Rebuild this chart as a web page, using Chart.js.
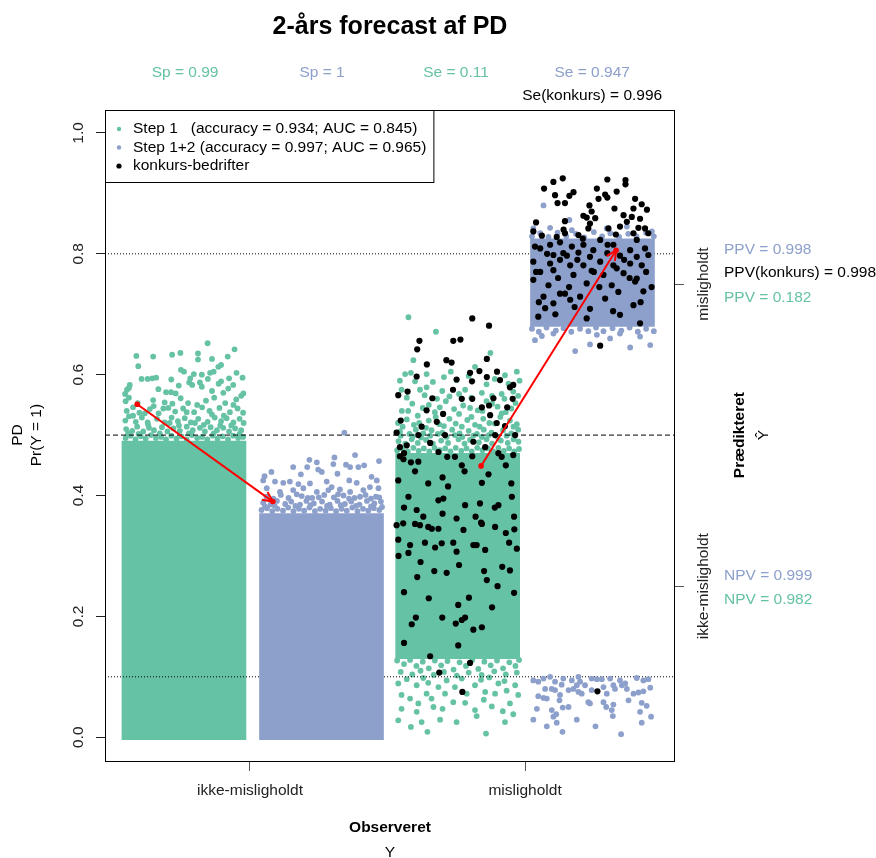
<!DOCTYPE html>
<html>
<head>
<meta charset="utf-8">
<script src="https://cdn.jsdelivr.net/npm/chart.js@4.4.0/dist/chart.umd.min.js"></script>
<style>
  html, body { margin: 0; padding: 0; background: #fff; }
  canvas { display: block; }
</style>
</head>
<body>
<canvas id="pd-chart" width="876" height="858"></canvas>
<script>
const categories = ['ikke-misligholdt', 'misligholdt'];
const yTickValues = [0, 0.2, 0.4, 0.6, 0.8, 1.0];
const xRange = [0.473, 2.545];
const yRange = [-0.041, 1.038];

const seriesLabels = [
  'Step 1   (accuracy = 0.934; AUC = 0.845)',
  'Step 1+2 (accuracy = 0.997; AUC = 0.965)',
  'konkurs-bedrifter'
];

// dense part of each cloud: x position, low and high PD
const greenCoreX = [0.76, 1.755];
const greenCoreLo = [-0.004, 0.13];
const greenCoreHi = [0.49, 0.47];
const blueCoreX = [1.26, 2.245];
const blueCoreLo = [-0.004, 0.68];
const blueCoreHi = [0.37, 0.825];

// Step 1, observed ikke-misligholdt (sparse part above the dense block)
const step1Ikke = [
  [0.548,0.495],[0.566,0.499],[0.584,0.493],[0.603,0.498],[0.621,0.494],[0.640,0.500],[0.658,0.495],[0.677,0.497],
  [0.695,0.493],[0.714,0.499],[0.733,0.494],[0.751,0.498],[0.770,0.493],[0.789,0.500],[0.808,0.495],[0.826,0.497],
  [0.845,0.493],[0.864,0.499],[0.882,0.494],[0.901,0.498],[0.920,0.493],[0.939,0.499],[0.957,0.495],[0.975,0.497],
  [0.550,0.510],[0.572,0.507],[0.590,0.514],[0.612,0.506],[0.633,0.512],[0.651,0.508],[0.680,0.513],[0.700,0.506],
  [0.722,0.511],[0.745,0.507],[0.770,0.514],[0.792,0.508],[0.818,0.512],[0.836,0.506],[0.857,0.513],[0.880,0.508],
  [0.903,0.512],[0.924,0.506],[0.946,0.511],[0.968,0.508],
  [0.557,0.503],[0.595,0.502],[0.630,0.517],[0.672,0.503],[0.708,0.520],[0.742,0.516],[0.778,0.503],[0.800,0.520],
  [0.832,0.517],[0.868,0.503],[0.892,0.516],[0.932,0.516],[0.962,0.502],
  [0.547,0.524],[0.560,0.531],[0.585,0.522],[0.607,0.529],[0.628,0.521],[0.662,0.527],[0.690,0.521],[0.715,0.529],
  [0.738,0.523],[0.763,0.528],[0.785,0.521],[0.812,0.527],[0.846,0.522],[0.872,0.529],[0.895,0.523],[0.915,0.528],
  [0.940,0.521],[0.962,0.527],[0.977,0.520],
  [0.575,0.532],[0.618,0.536],[0.650,0.548],[0.685,0.544],[0.718,0.552],[0.770,0.538],[0.808,0.550],[0.862,0.534],
  [0.905,0.532],[0.940,0.550],[0.968,0.565],
  [0.552,0.540],[0.575,0.546],[0.598,0.537],[0.636,0.543],[0.668,0.536],[0.703,0.545],[0.728,0.539],[0.757,0.544],
  [0.797,0.538],[0.826,0.546],[0.853,0.540],[0.889,0.545],[0.927,0.538],[0.955,0.544],[0.975,0.537],
  [0.548,0.556],[0.560,0.562],[0.592,0.553],[0.648,0.558],[0.690,0.554],[0.748,0.561],[0.775,0.553],[0.840,0.557],
  [0.870,0.562],[0.910,0.553],[0.950,0.559],[0.546,0.568],[0.553,0.575],[0.560,0.578],
  [0.846,0.652],[0.944,0.642],[0.587,0.631],[0.648,0.630],[0.717,0.633],[0.747,0.636],[0.811,0.635],[0.811,0.625],
  [0.862,0.626],[0.919,0.630],[0.594,0.614],[0.895,0.616],[0.885,0.613],[0.749,0.608],[0.760,0.605],[0.796,0.601],
  [0.825,0.600],[0.855,0.603],[0.868,0.605],[0.951,0.603],[0.606,0.593],[0.628,0.593],[0.645,0.594],[0.659,0.595],
  [0.714,0.592],[0.783,0.594],[0.779,0.587],[0.818,0.587],[0.847,0.593],[0.895,0.589],[0.886,0.585],[0.924,0.594],
  [0.973,0.595],[0.563,0.583],[0.667,0.576],[0.741,0.582],[0.790,0.583],[0.695,0.571],[0.713,0.571],[0.730,0.569],
  [0.825,0.580],[0.862,0.573],[0.903,0.570],[0.921,0.577],[0.939,0.583],[0.976,0.569]
];

// Step 1+2, observed ikke-misligholdt
const step12Ikke = [
  [1.042,0.376],[1.062,0.379],[1.081,0.374],[1.100,0.378],[1.120,0.375],[1.139,0.380],[1.158,0.374],[1.178,0.378],
  [1.197,0.375],[1.216,0.380],[1.236,0.374],[1.255,0.378],[1.275,0.375],[1.294,0.379],[1.313,0.374],[1.333,0.378],
  [1.352,0.375],[1.372,0.380],[1.391,0.374],[1.411,0.378],[1.430,0.375],[1.450,0.379],[1.470,0.376],[1.480,0.381],
  [1.055,0.382],[1.090,0.383],[1.165,0.383],[1.220,0.384],[1.280,0.383],[1.330,0.384],[1.385,0.383],[1.440,0.382],
  [1.048,0.388],[1.075,0.385],[1.098,0.391],[1.128,0.386],[1.150,0.390],[1.182,0.385],[1.205,0.391],[1.232,0.387],
  [1.262,0.390],[1.290,0.385],[1.318,0.391],[1.345,0.386],[1.368,0.390],[1.398,0.385],[1.425,0.391],[1.452,0.387],
  [1.476,0.390],
  [1.470,0.397],[1.440,0.395],[1.400,0.398],[1.360,0.395],[1.320,0.402],[1.250,0.397],[1.210,0.396],[1.170,0.402],
  [1.085,0.395],
  [1.060,0.398],[1.112,0.401],[1.140,0.396],[1.188,0.399],[1.226,0.396],[1.270,0.401],[1.305,0.397],[1.340,0.400],
  [1.380,0.396],[1.420,0.401],[1.458,0.398],
  [1.343,0.504],[1.382,0.467],[1.307,0.463],[1.216,0.459],[1.243,0.455],[1.469,0.457],[1.157,0.447],[1.303,0.452],
  [1.349,0.451],[1.364,0.447],[1.394,0.447],[1.415,0.450],[1.208,0.447],[1.248,0.443],[1.261,0.439],[1.078,0.439],
  [1.185,0.435],[1.318,0.436],[1.053,0.432],[1.361,0.425],[1.388,0.421],[1.442,0.431],[1.461,0.425],[1.121,0.421],
  [1.145,0.423],[1.176,0.419],[1.218,0.420],[1.279,0.423],[1.297,0.414],[1.327,0.410],[1.048,0.425],[1.091,0.423],
  [1.061,0.412],[1.109,0.406],[1.157,0.409],[1.194,0.412],[1.243,0.406],[1.285,0.409],[1.364,0.406],[1.412,0.409],
  [1.436,0.414],[1.467,0.412]
];

// Step 1, observed misligholdt
const step1Mis = [
  [1.576,0.695],[1.676,0.671],[1.874,0.636],[1.594,0.624],[1.818,0.613],[1.730,0.605],[1.564,0.601],[1.585,0.603],
  [1.642,0.601],[1.970,0.605],[1.927,0.599],[1.751,0.591],[1.600,0.589],[1.551,0.575],[1.618,0.575],[1.642,0.579],
  [1.699,0.573],[1.782,0.575],[1.843,0.570],[1.915,0.568],[1.957,0.572],
  [1.545,0.590],[1.665,0.588],[1.705,0.596],[1.795,0.598],[1.860,0.584],[1.890,0.593],[1.940,0.585],[1.980,0.590],
  [1.570,0.562],[1.635,0.566],[1.680,0.560],[1.725,0.564],[1.760,0.568],[1.805,0.562],[1.880,0.565],[1.925,0.560],
  [1.975,0.565],
  [1.535,0.475],[1.555,0.478],[1.574,0.473],[1.594,0.479],[1.613,0.474],[1.632,0.478],[1.652,0.473],[1.671,0.479],
  [1.690,0.475],[1.710,0.478],[1.729,0.473],[1.748,0.479],[1.768,0.474],[1.787,0.478],[1.806,0.473],[1.826,0.479],
  [1.845,0.475],[1.865,0.478],[1.884,0.473],[1.903,0.479],[1.923,0.474],[1.942,0.478],[1.961,0.473],[1.978,0.477],
  [1.540,0.490],[1.565,0.486],[1.588,0.493],[1.610,0.487],[1.640,0.492],[1.665,0.486],[1.695,0.491],[1.720,0.487],
  [1.758,0.493],[1.780,0.486],[1.800,0.492],[1.832,0.488],[1.860,0.493],[1.880,0.486],[1.912,0.491],[1.937,0.487],
  [1.958,0.493],[1.976,0.489],
  [1.548,0.499],[1.592,0.498],[1.622,0.496],[1.655,0.499],[1.683,0.502],[1.715,0.497],[1.745,0.500],[1.772,0.497],
  [1.812,0.499],[1.843,0.497],[1.868,0.500],[1.900,0.497],[1.933,0.499],[1.962,0.498],
  [1.545,0.506],[1.580,0.502],[1.603,0.509],[1.630,0.503],[1.660,0.508],[1.700,0.504],[1.735,0.509],[1.762,0.503],
  [1.795,0.507],[1.825,0.502],[1.850,0.509],[1.878,0.504],[1.920,0.508],[1.950,0.503],[1.975,0.509],
  [1.555,0.514],[1.615,0.520],[1.640,0.512],[1.675,0.530],[1.705,0.515],[1.770,0.514],[1.805,0.530],[1.835,0.514],
  [1.870,0.520],[1.910,0.530],[1.958,0.514],
  [1.538,0.520],[1.570,0.526],[1.596,0.517],[1.650,0.524],[1.688,0.518],[1.725,0.527],[1.748,0.519],[1.790,0.525],
  [1.818,0.517],[1.848,0.527],[1.890,0.519],[1.945,0.524],[1.970,0.518],
  [1.575,0.540],[1.610,0.532],[1.650,0.550],[1.690,0.546],[1.760,0.535],[1.800,0.545],[1.845,0.540],[1.880,0.552],
  [1.915,0.536],[1.950,0.544],
  [1.552,0.540],[1.590,0.552],[1.628,0.545],[1.672,0.538],[1.712,0.556],[1.742,0.543],[1.775,0.549],[1.828,0.541],
  [1.860,0.556],[1.900,0.547],[1.930,0.538],[1.965,0.553],
  [1.535,0.127],[1.560,0.121],[1.582,0.128],[1.605,0.118],[1.628,0.125],[1.650,0.114],[1.672,0.127],[1.695,0.119],
  [1.718,0.126],[1.740,0.112],[1.762,0.124],[1.785,0.118],[1.808,0.128],[1.830,0.113],[1.852,0.125],[1.875,0.119],
  [1.898,0.127],[1.920,0.114],[1.943,0.124],[1.965,0.118],[1.978,0.128],
  [1.548,0.108],[1.590,0.104],[1.620,0.110],[1.668,0.103],[1.705,0.108],[1.752,0.102],[1.795,0.107],[1.842,0.103],
  [1.888,0.109],[1.930,0.104],[1.970,0.107],
  [1.570,0.096],[1.630,0.098],[1.715,0.094],[1.770,0.097],[1.840,0.095],[1.870,0.099],[1.925,0.093],
  [1.539,0.089],[1.606,0.086],[1.648,0.090],[1.903,0.089],[1.685,0.083],[1.745,0.083],[1.818,0.086],[1.964,0.086],
  [1.551,0.070],[1.582,0.064],[1.612,0.056],[1.642,0.072],[1.709,0.072],[1.739,0.058],[1.788,0.072],[1.855,0.075],
  [1.891,0.072],[1.933,0.077],[1.660,0.064],[1.850,0.062],[1.975,0.070],
  [1.551,0.047],[1.606,0.042],[1.667,0.050],[1.782,0.057],[1.818,0.045],[1.879,0.051],[1.919,0.043],[1.945,0.056],
  [1.700,0.047],[1.539,0.028],[1.585,0.017],[1.645,0.009],[1.858,0.006],[1.691,0.029],[1.624,0.025],[1.751,0.025],
  [1.824,0.035],[1.927,0.025],[1.957,0.038]
];

// Step 1+2, observed misligholdt
const step12Mis = [
  [2.025,0.676],[2.050,0.671],[2.078,0.678],[2.112,0.673],[2.140,0.677],[2.168,0.671],[2.200,0.676],[2.230,0.672],
  [2.258,0.678],[2.285,0.672],[2.318,0.677],[2.350,0.673],[2.380,0.678],[2.410,0.671],[2.440,0.676],[2.468,0.672],
  [2.036,0.657],[2.061,0.664],[2.182,0.639],[2.236,0.650],[2.309,0.660],[2.382,0.645],[2.455,0.649],[2.103,0.668],
  [2.261,0.666],[2.345,0.668],[2.418,0.663],
  [2.025,0.829],[2.055,0.834],[2.085,0.828],[2.118,0.835],[2.150,0.829],[2.185,0.833],[2.215,0.827],[2.250,0.836],
  [2.280,0.829],[2.310,0.834],[2.342,0.828],[2.375,0.833],[2.405,0.829],[2.440,0.835],[2.468,0.829],
  [2.067,0.880],[2.161,0.856],[2.030,0.842],[2.091,0.843],[2.170,0.839],[2.297,0.842],[2.370,0.845],[2.461,0.837],
  [2.030,0.094],[2.048,0.092],[2.067,0.097],[2.091,0.100],[2.109,0.092],[2.139,0.097],[2.170,0.094],[2.194,0.100],
  [2.200,0.092],[2.242,0.097],[2.261,0.096],[2.279,0.096],[2.309,0.097],[2.345,0.094],[2.364,0.089],[2.406,0.098],
  [2.430,0.094],[2.448,0.096],[2.073,0.080],[2.097,0.080],[2.109,0.078],[2.133,0.087],[2.158,0.078],[2.176,0.080],
  [2.194,0.075],[2.206,0.072],[2.188,0.086],[2.218,0.086],[2.242,0.078],[2.285,0.083],[2.297,0.072],[2.321,0.086],
  [2.327,0.080],[2.352,0.086],[2.370,0.080],[2.394,0.072],[2.412,0.074],[2.430,0.076],[2.455,0.082],[2.048,0.068],
  [2.067,0.065],[2.079,0.064],[2.127,0.070],[2.125,0.061],[2.230,0.058],[2.236,0.056],[2.285,0.058],[2.295,0.050],
  [2.321,0.054],[2.376,0.061],[2.424,0.057],[2.442,0.052],[2.043,0.047],[2.097,0.045],[2.137,0.049],[2.158,0.050],
  [2.103,0.034],[2.113,0.038],[2.315,0.045],[2.319,0.035],[2.418,0.042],[2.458,0.034],[2.030,0.029],[2.115,0.024],
  [2.188,0.029],[2.424,0.024],[2.079,0.018],[2.136,0.009],[2.256,0.018],[2.349,0.005]
];

// konkurs-bedrifter, Step 1
const konkursStep1 = [
  [1.808,0.693],[1.869,0.681],[1.616,0.656],[1.608,0.642],[1.739,0.656],[1.765,0.658],[1.861,0.626],[1.714,0.624],
  [1.733,0.620],[1.643,0.617],[1.606,0.597],[1.751,0.592],[1.800,0.603],[1.834,0.606],[1.898,0.605],[1.861,0.596],
  [1.909,0.591],[1.807,0.589],[1.957,0.583],[1.945,0.579],[1.738,0.575],[1.539,0.566],[1.573,0.572],[1.663,0.561],
  [1.770,0.560],[1.808,0.560],[1.885,0.561],[1.955,0.560],[1.843,0.546],[1.869,0.549],[1.935,0.546],[1.642,0.541],
  [1.702,0.535],[1.873,0.533],[1.548,0.524],[1.679,0.522],[1.897,0.520],[1.624,0.514],[1.927,0.515],[1.533,0.504],
  [1.612,0.500],[1.709,0.500],[1.891,0.500],[1.964,0.500],[1.570,0.483],[1.655,0.487],[1.812,0.489],[1.855,0.480],
  [1.545,0.465],[1.558,0.460],[1.685,0.472],[1.717,0.464],[1.745,0.464],[1.808,0.465],[1.903,0.470],[1.915,0.464],
  [1.957,0.467],[1.612,0.456],[1.770,0.450],[1.867,0.435],[1.539,0.425],[1.648,0.420],[1.843,0.421],[1.576,0.398],
  [1.606,0.376],[1.685,0.392],[1.703,0.395],[1.782,0.384],[1.836,0.387],[1.903,0.384],[1.952,0.398],[1.751,0.362],
  [1.843,0.353],[1.648,0.348],[1.557,0.354],
  [1.545,0.480],[1.560,0.470],[1.585,0.455],[1.600,0.440],[1.700,0.430],[1.720,0.415],[1.780,0.440],[1.930,0.450],
  [1.950,0.420],[1.890,0.380],[1.560,0.380],[1.630,0.365],[1.700,0.370],[1.820,0.365],[1.960,0.365],
  [1.533,0.351],[1.600,0.353],[1.618,0.351],[1.661,0.345],[1.685,0.345],[1.776,0.343],[1.840,0.355],[1.891,0.348],
  [1.930,0.338],[1.961,0.344],[1.539,0.327],[1.582,0.318],[1.636,0.322],[1.673,0.314],[1.697,0.321],[1.739,0.322],
  [1.812,0.318],[1.824,0.318],[1.855,0.310],[1.942,0.322],[1.970,0.312],[1.576,0.305],[1.751,0.307],[1.540,0.300],
  [1.620,0.290],[1.760,0.285],[1.670,0.275],[1.715,0.272],[1.851,0.275],[1.917,0.282],[1.945,0.276],[1.608,0.265],
  [1.861,0.260],[1.900,0.250],[1.960,0.239],[1.560,0.240],[1.796,0.231],[1.650,0.230],[1.757,0.219],[1.880,0.215],
  [1.603,0.198],[1.588,0.187],[1.699,0.198],[1.782,0.198],[1.770,0.194],[1.748,0.188],[1.812,0.178],[1.843,0.182],
  [1.560,0.156],[1.757,0.152],[1.655,0.134],[1.800,0.123],[1.688,0.107],[1.772,0.075]
];

// konkurs-bedrifter, Step 1+2
const konkursStep12 = [
  [2.137,0.925],[2.103,0.919],[2.299,0.923],[2.365,0.922],[2.365,0.915],[2.069,0.908],[2.176,0.902],[2.161,0.896],
  [2.261,0.908],[2.291,0.898],[2.299,0.893],[2.333,0.903],[2.267,0.891],[2.109,0.897],[2.118,0.884],[2.145,0.884],
  [2.234,0.880],[2.400,0.891],[2.424,0.882],[2.325,0.875],[2.394,0.875],[2.443,0.873],[2.242,0.870],[2.358,0.864],
  [2.388,0.861],[2.212,0.863],[2.224,0.860],[2.255,0.859],[2.418,0.858],[2.370,0.853],[2.145,0.854],[2.040,0.852],
  [2.236,0.850],[2.230,0.842],[2.303,0.842],[2.345,0.845],[2.412,0.843],[2.436,0.842],[2.448,0.834],[2.030,0.837],
  [2.061,0.830],[2.115,0.828],[2.145,0.834],[2.194,0.831],[2.394,0.834],[2.273,0.823],[2.321,0.815],[2.406,0.823],
  [2.036,0.812],[2.055,0.809],[2.091,0.815],[2.127,0.819],[2.170,0.812],[2.212,0.815],[2.248,0.806],[2.382,0.806],
  [2.436,0.809],[2.103,0.798],[2.139,0.801],[2.152,0.797],[2.194,0.802],[2.236,0.795],[2.299,0.801],[2.345,0.797],
  [2.406,0.795],[2.448,0.798],[2.030,0.787],[2.091,0.784],[2.127,0.790],[2.164,0.781],[2.212,0.781],[2.273,0.787],
  [2.321,0.781],[2.333,0.776],[2.382,0.784],[2.424,0.781],[2.055,0.770],[2.103,0.773],[2.176,0.765],[2.242,0.772],
  [2.285,0.765],[2.358,0.768],[2.400,0.754],[2.406,0.759],[2.030,0.757],[2.085,0.748],[2.127,0.734],[2.145,0.734],
  [2.224,0.751],[2.315,0.748],[2.339,0.737],[2.430,0.738],[2.067,0.729],[2.164,0.724],[2.200,0.729],[2.291,0.726],
  [2.103,0.718],[2.236,0.709],[2.073,0.710],[2.394,0.715],[2.048,0.696],[2.418,0.685],[2.273,0.648],[2.345,0.699],
  [2.224,0.693],
  [2.040,0.770],[2.080,0.800],[2.120,0.760],[2.160,0.745],[2.190,0.790],[2.250,0.770],[2.270,0.745],[2.300,0.815],
  [2.360,0.790],[2.380,0.760],[2.440,0.770],[2.460,0.745],[2.050,0.720],[2.110,0.700],[2.180,0.712],[2.320,0.705],
  [2.420,0.720],[2.210,0.825],[2.140,0.840],[2.330,0.832],
  [2.263,0.076]
];

// red arrows: mean PD of konkurs firms moving from Step 1 to Step 1+2
const arrowFrom = [[0.590, 0.551], [1.840, 0.449]];
const arrowTo = [[1.083, 0.390], [2.331, 0.806]];

// horizontal cut-off lines
const refLineY = [0.8, 0.5, 0.1];
const refLineDash = [[1, 2], [5, 3], [1, 2]];

// annotations
const topNoteText = ['Sp = 0.99', 'Sp = 1', 'Se = 0.11', 'Se = 0.947'];
const topNoteX = [0.764, 1.262, 1.749, 2.244];
const topNoteSeries = [0, 1, 0, 1];
const konkursNote = 'Se(konkurs) = 0.996';
const rightNoteText = ['PPV = 0.998', 'PPV(konkurs) = 0.998', 'PPV = 0.182', 'NPV = 0.999', 'NPV = 0.982'];
const rightNoteY = [0.806, 0.768, 0.727, 0.268, 0.227];
const rightNoteSeries = [1, 2, 0, 1, 0];
const predTickY = [0.25, 0.75];

const GREEN = '#66C2A5';
const BLUE = '#8DA0CB';
const seriesColors = [GREEN, BLUE, '#000000'];
const FONT = '"Liberation Sans", Arial, Helvetica, sans-serif';

const toXY = pts => pts.map(p => ({ x: p[0], y: p[1] }));

function drawText(ctx, str, x, y, font, color, align, rot) {
  ctx.save();
  ctx.translate(x, y);
  if (rot) ctx.rotate(rot);
  ctx.font = font;
  ctx.fillStyle = color;
  ctx.textAlign = align || 'center';
  ctx.textBaseline = 'middle';
  ctx.fillText(str, 0, 0);
  ctx.restore();
}

const decorations = {
  id: 'decorations',
  afterDatasetsDraw(chart) {
    const { ctx, chartArea: a, scales: { y } } = chart;
    ctx.save();
    // arrow heads
    chart.data.datasets.forEach((ds, i) => {
      if (!ds.isArrow) return;
      const pts = chart.getDatasetMeta(i).data;
      const p0 = pts[0], p1 = pts[1];
      const ang = Math.atan2(p1.y - p0.y, p1.x - p0.x);
      const len = 11, spread = Math.PI / 7;
      ctx.beginPath();
      ctx.strokeStyle = '#FF0000';
      ctx.lineWidth = 2;
      ctx.moveTo(p1.x - len * Math.cos(ang - spread), p1.y - len * Math.sin(ang - spread));
      ctx.lineTo(p1.x, p1.y);
      ctx.lineTo(p1.x - len * Math.cos(ang + spread), p1.y - len * Math.sin(ang + spread));
      ctx.stroke();
    });
    // plot box
    ctx.strokeStyle = '#000';
    ctx.lineWidth = 1;
    ctx.strokeRect(a.left + 0.5, a.top + 0.5, a.right - a.left - 1, a.bottom - a.top - 1);
    // right axis ticks (Predikteret)
    ctx.strokeStyle = '#555';
    predTickY.forEach(v => {
      const py = Math.round(y.getPixelForValue(v)) + 0.5;
      ctx.beginPath();
      ctx.moveTo(a.right, py);
      ctx.lineTo(a.right + 9, py);
      ctx.stroke();
    });
    ctx.restore();
  },
  afterDraw(chart) {
    const { ctx, chartArea: a, scales: { x, y } } = chart;
    const midX = (a.left + a.right) / 2;
    const midY = y.getPixelForValue(0.5);
    const f = '15.5px ' + FONT;
    const fb = 'bold 15.5px ' + FONT;

    drawText(ctx, '2-års forecast af PD', midX, 27, 'bold 25px ' + FONT, '#000');

    topNoteText.forEach((t, i) => {
      drawText(ctx, t, x.getPixelForValue(topNoteX[i]), a.top - 37, f, seriesColors[topNoteSeries[i]]);
    });
    drawText(ctx, konkursNote, x.getPixelForValue(topNoteX[3]), a.top - 14, f, '#000');

    rightNoteText.forEach((t, i) => {
      drawText(ctx, t, a.right + 49, y.getPixelForValue(rightNoteY[i]), f, seriesColors[rightNoteSeries[i]], 'left');
    });
    predTickY.forEach((v, i) => {
      drawText(ctx, categories[i], a.right + 29, y.getPixelForValue(v), f, '#222', 'center', -Math.PI / 2);
    });
    drawText(ctx, 'Prædikteret', a.right + 65, midY, fb, '#000', 'center', -Math.PI / 2);
    drawText(ctx, '\u0176', a.right + 89, midY, f, '#000', 'center', -Math.PI / 2);

    drawText(ctx, 'PD', a.left - 87, midY, f, '#000', 'center', -Math.PI / 2);
    drawText(ctx, 'Pr(Y = 1)', a.left - 68, midY, f, '#000', 'center', -Math.PI / 2);
    drawText(ctx, 'Observeret', midX, a.bottom + 66, fb, '#000');
    drawText(ctx, 'Y', midX, a.bottom + 91, f, '#000');

    // legend
    ctx.save();
    ctx.font = f;
    const textW = Math.max(...seriesLabels.map(s => ctx.measureText(s).width));
    const boxW = 28 + textW + 7;
    ctx.fillStyle = '#fff';
    ctx.fillRect(a.left + 0.5, a.top + 0.5, boxW, 72);
    ctx.strokeStyle = '#000';
    ctx.lineWidth = 1;
    ctx.strokeRect(a.left + 0.5, a.top + 0.5, boxW, 72);
    ctx.restore();
    seriesLabels.forEach((s, i) => {
      const ly = a.top + 19 + i * 18.5;
      ctx.beginPath();
      ctx.fillStyle = seriesColors[i];
      ctx.arc(a.left + 14, ly, i === 2 ? 2.6 : 2.2, 0, Math.PI * 2);
      ctx.fill();
      drawText(ctx, s, a.left + 28, ly, f, '#000', 'left');
    });
  }
};

const pointStyle = (color, r) => ({
  pointRadius: r, pointHoverRadius: r, pointBorderWidth: 0,
  pointBackgroundColor: color, backgroundColor: color, borderColor: color
});

const datasets = [
  { type: 'bar', label: 'step1-core', order: 6, grouped: false, barThickness: 124, borderWidth: 0,
    backgroundColor: GREEN,
    data: greenCoreX.map((v, i) => ({ x: v, y: [greenCoreLo[i], greenCoreHi[i]] })) },
  { type: 'scatter', label: seriesLabels[0], order: 5, ...pointStyle(GREEN, 2.9),
    data: toXY(step1Ikke.concat(step1Mis)) },
  ...refLineY.map((v, i) => ({
    type: 'line', label: 'ref' + i, order: 4, borderColor: '#000', borderWidth: 1,
    borderDash: refLineDash[i], pointRadius: 0, fill: false,
    data: [{ x: xRange[0], y: v }, { x: xRange[1], y: v }]
  })),
  { type: 'bar', label: 'step12-core', order: 3, grouped: false, barThickness: 124, borderWidth: 0,
    backgroundColor: BLUE,
    data: blueCoreX.map((v, i) => ({ x: v, y: [blueCoreLo[i], blueCoreHi[i]] })) },
  { type: 'scatter', label: seriesLabels[1], order: 2, ...pointStyle(BLUE, 2.9),
    data: toXY(step12Ikke.concat(step12Mis)) },
  { type: 'scatter', label: seriesLabels[2], order: 1, ...pointStyle('#000', 3.1),
    data: toXY(konkursStep1.concat(konkursStep12)) },
  ...arrowFrom.map((p, i) => ({
    type: 'line', label: 'arrow' + i, isArrow: true, order: 0, borderColor: '#FF0000', borderWidth: 2,
    pointRadius: 2.8, pointBorderWidth: 0, pointBackgroundColor: '#FF0000', fill: false, tension: 0,
    data: [{ x: p[0], y: p[1] }, { x: arrowTo[i][0], y: arrowTo[i][1] }]
  }))
];

new Chart(document.getElementById('pd-chart').getContext('2d'), {
  type: 'scatter',
  data: { datasets },
  options: {
    responsive: false,
    animation: false,
    events: [],
    devicePixelRatio: 1,
    layout: { padding: { top: 110, right: 201, left: 0, bottom: 0 } },
    plugins: { legend: { display: false }, tooltip: { enabled: false } },
    scales: {
      x: {
        type: 'linear', min: xRange[0], max: xRange[1], stacked: false, offset: false,
        afterBuildTicks: s => { s.ticks = categories.map((c, i) => ({ value: i + 1 })); },
        afterFit: s => { s.height = 96; },
        ticks: {
          callback: v => categories[v - 1], autoSkip: false, maxRotation: 0, padding: 10,
          font: { family: FONT, size: 15.5 }, color: '#222'
        },
        grid: { offset: false, drawOnChartArea: false, tickLength: 9, tickColor: '#555' },
        border: { display: false }
      },
      y: {
        type: 'linear', min: yRange[0], max: yRange[1], stacked: false, beginAtZero: false,
        afterBuildTicks: s => { s.ticks = yTickValues.map(v => ({ value: v })); },
        afterFit: s => { s.width = 105; },
        ticks: {
          callback: v => v.toFixed(1), minRotation: 90, maxRotation: 90, crossAlign: 'center', padding: 7,
          font: { family: FONT, size: 15.5 }, color: '#222'
        },
        grid: { drawOnChartArea: false, tickLength: 9, tickColor: '#222' },
        border: { display: false }
      }
    }
  },
  plugins: [decorations]
});
</script>
</body>
</html>
